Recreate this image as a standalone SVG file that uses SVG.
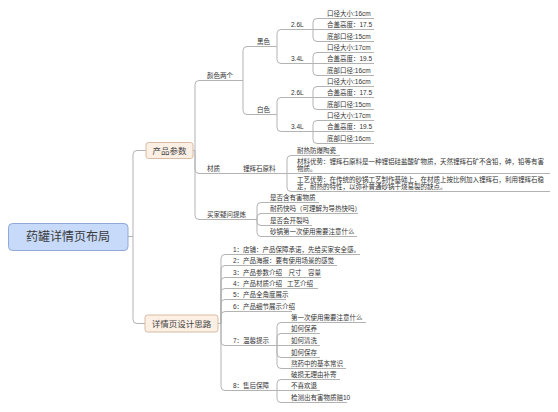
<svg xmlns="http://www.w3.org/2000/svg" width="558" height="412" viewBox="0 0 558 412">
<style>
.t{font-family:"Liberation Sans","Noto Sans CJK SC",sans-serif;font-size:6.5px;fill:#333}
.bt{font-family:"Liberation Sans","Noto Sans CJK SC",sans-serif;font-size:8.5px;fill:#444;text-anchor:middle}
.rt{font-family:"Liberation Sans","Noto Sans CJK SC",sans-serif;font-size:12px;fill:#3a3a3a;text-anchor:middle}
.u,.c path{stroke:#b3b3b3;stroke-width:1;fill:none}
.box{fill:#fcefe4;stroke:#d9bba3;stroke-width:1}
.rbox{fill:#c8dafa;stroke:#8ea8d8;stroke-width:1}
</style>
<rect width="558" height="412" fill="#fff"/>
<g class="c" id="connectors">
<path d="M128,236.5 H133 V154.5 Q133,150.5 137,150.5 H146"/>
<path d="M128,236.5 H133 V319.5 Q133,323.5 137,323.5 H145"/>
<path d="M193,150.5 H195 V84.5 Q195,80.5 199,80.5"/>
<path d="M193,150.5 H195 V169.5 Q195,173.5 199,173.5"/>
<path d="M193,150.5 H195 V215.5 Q195,219.5 199,219.5"/>
<path d="M243,80.5 V50.5 Q243,46.5 247,46.5"/>
<path d="M243,80.5 V110.5 Q243,114.5 247,114.5"/>
<path d="M277,46.5 V33.5 Q277,29.5 281,29.5"/>
<path d="M277,46.5 V59.5 Q277,63.5 281,63.5"/>
<path d="M277,114.5 V101.5 Q277,97.5 281,97.5"/>
<path d="M277,114.5 V127.5 Q277,131.5 281,131.5"/>
<path d="M313,29.5 V22.5 Q313,18.5 317,18.5"/>
<path d="M313,29.5 H317"/>
<path d="M313,29.5 V37.5 Q313,41.5 317,41.5"/>
<path d="M313,63.5 V56.5 Q313,52.5 317,52.5"/>
<path d="M313,63.5 H317"/>
<path d="M313,63.5 V71.5 Q313,75.5 317,75.5"/>
<path d="M313,97.5 V90.5 Q313,86.5 317,86.5"/>
<path d="M313,97.5 H317"/>
<path d="M313,97.5 V105.5 Q313,109.5 317,109.5"/>
<path d="M313,131.5 V124.5 Q313,120.5 317,120.5"/>
<path d="M313,131.5 H317"/>
<path d="M313,131.5 V139.5 Q313,143.5 317,143.5"/>
<path d="M233,173.5 H237"/>
<path d="M287,173.5 V159.5 Q287,155.5 291,155.5"/>
<path d="M287,173.5 H291"/>
<path d="M287,173.5 V187.5 Q287,191.5 291,191.5"/>
<path d="M257,219.5 V206.5 Q257,202.5 261,202.5"/>
<path d="M257,219.5 V217.5 Q257,213.5 261,213.5"/>
<path d="M257,219.5 V221.5 Q257,225.5 261,225.5"/>
<path d="M257,219.5 V232.5 Q257,236.5 261,236.5"/>
<path d="M218,323.5 H221 V258.5 Q221,254.5 225,254.5"/>
<path d="M218,323.5 H221 V269.5 Q221,265.5 225,265.5"/>
<path d="M218,323.5 H221 V281.5 Q221,277.5 225,277.5"/>
<path d="M218,323.5 H221 V292.5 Q221,288.5 225,288.5"/>
<path d="M218,323.5 H221 V303.5 Q221,299.5 225,299.5"/>
<path d="M218,323.5 H221 V315.5 Q221,311.5 225,311.5"/>
<path d="M218,323.5 H221 V341.5 Q221,345.5 225,345.5"/>
<path d="M218,323.5 H221 V386.5 Q221,390.5 225,390.5"/>
<path d="M277,345.5 V326.5 Q277,322.5 281,322.5"/>
<path d="M277,345.5 V337.5 Q277,333.5 281,333.5"/>
<path d="M277,345.5 H281"/>
<path d="M277,345.5 V353.5 Q277,357.5 281,357.5"/>
<path d="M277,345.5 V364.5 Q277,368.5 281,368.5"/>
<path d="M277,390.5 V383.5 Q277,379.5 281,379.5"/>
<path d="M277,390.5 H281"/>
<path d="M277,390.5 V398.5 Q277,402.5 281,402.5"/>
</g>
<g id="root"><rect class="rbox" x="8.5" y="223.5" width="119.5" height="27" rx="4"/><text class="rt" x="68" y="241.3">药罐详情页布局</text></g>
<g id="n-params"><rect class="box" x="146" y="142.5" width="47" height="16" rx="2.5"/><text class="bt" x="169.5" y="153.5">产品参数</text></g>
<g id="n-design"><rect class="box" x="145" y="315" width="73" height="17" rx="2.5"/><text class="bt" x="181.5" y="326.5">详情页设计思路</text></g>
<g id="n-colors"><path class="u" d="M199,80.5 H243"/><text class="t" x="207" y="78">颜色两个</text></g>
<g id="n-black"><path class="u" d="M247,46.5 H277"/><text class="t" x="257" y="44">黑色</text></g>
<g id="n-white"><path class="u" d="M247,114.5 H277"/><text class="t" x="257" y="112">白色</text></g>
<g id="n-b26"><path class="u" d="M281,29.5 H313"/><text class="t" x="291" y="27">2.6L</text></g>
<g id="n-b34"><path class="u" d="M281,63.5 H313"/><text class="t" x="291" y="61">3.4L</text></g>
<g id="n-w26"><path class="u" d="M281,97.5 H313"/><text class="t" x="291" y="95">2.6L</text></g>
<g id="n-w34"><path class="u" d="M281,131.5 H313"/><text class="t" x="291" y="129">3.4L</text></g>
<g id="l-b26-1"><path class="u" d="M317,18.5 H374"/><text class="t" x="327" y="16">口径大小:16cm</text></g>
<g id="l-b26-2"><path class="u" d="M317,29.5 H374"/><text class="t" x="327" y="27">合盖高度：17.5</text></g>
<g id="l-b26-3"><path class="u" d="M317,41.5 H374"/><text class="t" x="327" y="39">底部口径:15cm</text></g>
<g id="l-b34-1"><path class="u" d="M317,52.5 H374"/><text class="t" x="327" y="50">口径大小:17cm</text></g>
<g id="l-b34-2"><path class="u" d="M317,63.5 H374"/><text class="t" x="327" y="61">合盖高度：19.5</text></g>
<g id="l-b34-3"><path class="u" d="M317,75.5 H374"/><text class="t" x="327" y="73">底部口径:16cm</text></g>
<g id="l-w26-1"><path class="u" d="M317,86.5 H374"/><text class="t" x="327" y="84">口径大小:16cm</text></g>
<g id="l-w26-2"><path class="u" d="M317,97.5 H374"/><text class="t" x="327" y="95">合盖高度：17.5</text></g>
<g id="l-w26-3"><path class="u" d="M317,109.5 H374"/><text class="t" x="327" y="107">底部口径:15cm</text></g>
<g id="l-w34-1"><path class="u" d="M317,120.5 H374"/><text class="t" x="327" y="118">口径大小:17cm</text></g>
<g id="l-w34-2"><path class="u" d="M317,131.5 H374"/><text class="t" x="327" y="129">合盖高度：19.5</text></g>
<g id="l-w34-3"><path class="u" d="M317,143.5 H374"/><text class="t" x="327" y="141">底部口径:16cm</text></g>
<g id="n-material"><path class="u" d="M199,173.5 H233"/><text class="t" x="207" y="171">材质</text></g>
<g id="n-spodumene"><path class="u" d="M237,173.5 H287"/><text class="t" x="243" y="171">锂辉石原料</text></g>
<g id="n-ceramic"><path class="u" d="M291,155.5 H340"/><text class="t" x="297" y="153">耐热防爆陶瓷</text></g>
<g id="n-adv1"><path class="u" d="M291,173.5 H550"/><text class="t" x="297" y="164">材料优势：锂辉石原料是一种锂铝硅盐酸矿物质，天然锂辉石矿不含铅，砷，铅等有害</text><text class="t" x="297" y="171">物质。</text></g>
<g id="n-adv2"><path class="u" d="M291,191.5 H550"/><text class="t" x="297" y="182">工艺优势：在传统的砂锅工艺制作基础上，在材质上按比例加入锂辉石，利用锂辉石稳</text><text class="t" x="297" y="189">定，耐热的特性，以弥补普通砂锅干烧易裂的缺点。</text></g>
<g id="n-questions"><path class="u" d="M199,219.5 H257"/><text class="t" x="207" y="217">买家疑问提炼</text></g>
<g id="q1"><path class="u" d="M261,202.5 H319"/><text class="t" x="270" y="200">是否含有害物质</text></g>
<g id="q2"><path class="u" d="M261,213.5 H358"/><text class="t" x="270" y="211">耐药快吗（可理解为导热快吗）</text></g>
<g id="q3"><path class="u" d="M261,225.5 H312"/><text class="t" x="270" y="223">是否会开裂吗</text></g>
<g id="q4"><path class="u" d="M261,236.5 H357"/><text class="t" x="270" y="234">砂锅第一次使用需要注意什么</text></g>
<g id="d1"><path class="u" d="M225,254.5 H360"/><text class="t" x="233" y="252">1：店铺：产品保障承诺，先给买家安全感。</text></g>
<g id="d2"><path class="u" d="M225,265.5 H337"/><text class="t" x="233" y="263">2：产品海报：要有使用场景的感觉</text></g>
<g id="d3"><path class="u" d="M225,277.5 H321"/><text class="t" x="233" y="275">3：产品参数介绍<tspan x="288.5">尺寸</tspan><tspan x="308">容量</tspan></text></g>
<g id="d4"><path class="u" d="M225,288.5 H318"/><text class="t" x="233" y="286">4：产品材质介绍<tspan x="287">工艺介绍</tspan></text></g>
<g id="d5"><path class="u" d="M225,299.5 H286"/><text class="t" x="233" y="297">5：产品全角度展示</text></g>
<g id="d6"><path class="u" d="M225,311.5 H292"/><text class="t" x="233" y="309">6：产品细节展示介绍</text></g>
<g id="d7"><path class="u" d="M225,345.5 H277"/><text class="t" x="233" y="343">7：温馨提示</text></g>
<g id="t1"><path class="u" d="M281,322.5 H366"/><text class="t" x="291" y="320">第一次使用需要注意什么</text></g>
<g id="t2"><path class="u" d="M281,333.5 H320"/><text class="t" x="291" y="331">如何保养</text></g>
<g id="t3"><path class="u" d="M281,345.5 H320"/><text class="t" x="291" y="343">如何清洗</text></g>
<g id="t4"><path class="u" d="M281,357.5 H320"/><text class="t" x="291" y="355">如何保存</text></g>
<g id="t5"><path class="u" d="M281,368.5 H346"/><text class="t" x="291" y="366">熬药中的基本常识</text></g>
<g id="d8"><path class="u" d="M225,390.5 H277"/><text class="t" x="233" y="388">8：售后保障</text></g>
<g id="s1"><path class="u" d="M281,379.5 H340"/><text class="t" x="291" y="377">破损无理由补寄</text></g>
<g id="s2"><path class="u" d="M281,390.5 H320"/><text class="t" x="291" y="388">不喜欢退</text></g>
<g id="s3"><path class="u" d="M281,402.5 H347"/><text class="t" x="291" y="400">检测出有害物质赔10</text></g>
</svg>
